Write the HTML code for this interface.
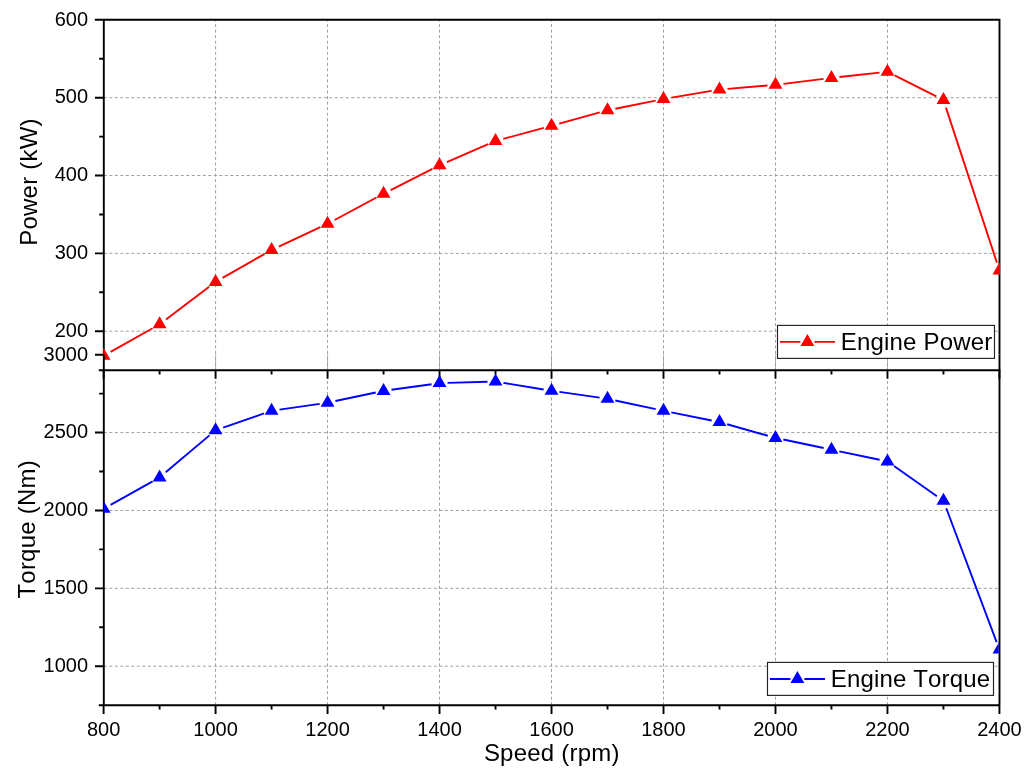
<!DOCTYPE html>
<html><head><meta charset="utf-8"><style>
html,body{margin:0;padding:0;background:#fff;width:1032px;height:774px;overflow:hidden}
svg text{font-family:"Liberation Sans",sans-serif;fill:#000;font-kerning:none;font-feature-settings:"kern" 0}
</style></head><body>
<svg width="1032" height="774" viewBox="0 0 1032 774" style="position:absolute;left:0;top:0;will-change:transform">
<defs><clipPath id="cr"><rect x="103.2" y="0" width="896.9" height="774"/></clipPath><clipPath id="cb"><rect x="103.8" y="0" width="894.9" height="774"/></clipPath></defs>
<path d="M215.58 19.70V370.20 M327.56 19.70V370.20 M439.54 19.70V370.20 M551.52 19.70V370.20 M663.50 19.70V370.20 M775.48 19.70V370.20 M887.46 19.70V370.20" fill="none" stroke="#a0a0a0" stroke-width="1" stroke-dasharray="3.03 2.51" stroke-dashoffset="1.2"/>
<path d="M215.58 705.20V354.70 M327.56 705.20V354.70 M439.54 705.20V354.70 M551.52 705.20V354.70 M663.50 705.20V354.70 M775.48 705.20V354.70 M887.46 705.20V354.70" fill="none" stroke="#a0a0a0" stroke-width="1" stroke-dasharray="3.03 2.51"/>
<path d="M103.80 331.20H999.50 M103.80 253.36H999.50 M103.80 175.53H999.50 M103.80 97.69H999.50 M103.80 666.20H999.50 M103.80 588.33H999.50 M103.80 510.45H999.50 M103.80 432.57H999.50" fill="none" stroke="#a0a0a0" stroke-width="1" stroke-dasharray="3 2.5"/>
<path d="M103.8 18.8V354.7 M999.5 18.8V354.7 M94.8 19.7H1000.4 M98.8 370.2H1000.4 M95 331.20H103.8 M95 253.36H103.8 M95 175.53H103.8 M95 97.69H103.8 M99.2 370.12H103.8 M99.2 292.28H103.8 M99.2 214.44H103.8 M99.2 136.61H103.8 M99.2 58.77H103.8 M103.60 370.2V378.8 M159.59 370.2V374.4 M215.58 370.2V378.8 M271.57 370.2V374.4 M327.56 370.2V378.8 M383.55 370.2V374.4 M439.54 370.2V378.8 M495.53 370.2V374.4 M551.52 370.2V378.8 M607.51 370.2V374.4 M663.50 370.2V378.8 M719.49 370.2V374.4 M775.48 370.2V378.8 M831.47 370.2V374.4 M887.46 370.2V378.8 M943.45 370.2V374.4 M999.44 370.2V378.8" fill="none" stroke="#000" stroke-width="1.9"/>
<g clip-path="url(#cr)"><path d="M110.57 351.88L152.62 328.22 M165.97 319.47L209.20 286.73 M222.53 277.93L264.62 253.87 M278.82 246.52L320.31 227.18 M334.61 220.01L376.50 197.49 M390.68 190.07L432.41 168.83 M446.88 162.03L488.19 144.17 M503.25 138.90L543.80 127.90 M559.23 123.67L599.80 112.43 M615.35 108.72L655.66 100.58 M671.39 97.66L711.60 90.84 M727.46 88.83L767.51 85.47 M783.42 83.82L823.53 78.88 M839.42 77.02L879.51 72.58 M894.60 75.31L936.31 96.39 M945.95 107.60L996.94 262.80" fill="none" stroke="#ff0000" stroke-width="1.9"/>
<path d="M103.60 347.80L96.67 359.80L110.53 359.80ZM159.59 316.30L152.66 328.30L166.52 328.30ZM215.58 273.90L208.65 285.90L222.51 285.90ZM271.57 241.90L264.64 253.90L278.50 253.90ZM327.56 215.80L320.63 227.80L334.49 227.80ZM383.55 185.70L376.62 197.70L390.48 197.70ZM439.54 157.20L432.61 169.20L446.47 169.20ZM495.53 133.00L488.60 145.00L502.46 145.00ZM551.52 117.80L544.59 129.80L558.45 129.80ZM607.51 102.30L600.58 114.30L614.44 114.30ZM663.50 91.00L656.57 103.00L670.43 103.00ZM719.49 81.50L712.56 93.50L726.42 93.50ZM775.48 76.80L768.55 88.80L782.41 88.80ZM831.47 69.90L824.54 81.90L838.40 81.90ZM887.46 63.70L880.53 75.70L894.39 75.70ZM943.45 92.00L936.52 104.00L950.38 104.00ZM999.44 262.40L992.51 274.40L1006.37 274.40Z" fill="#ff0000"/></g>
<path d="M103.8 354.7V706.1 M999.5 354.7V706.1 M98.8 705.2H1000.4 M95 666.20H103.8 M95 588.33H103.8 M95 510.45H103.8 M95 432.57H103.8 M95 354.70H103.8 M99.2 705.14H103.8 M99.2 627.26H103.8 M99.2 549.39H103.8 M99.2 471.51H103.8 M99.2 393.64H103.8 M103.60 705.2V714 M159.59 705.2V709.4 M215.58 705.2V714 M271.57 705.2V709.4 M327.56 705.2V714 M383.55 705.2V709.4 M439.54 705.2V714 M495.53 705.2V709.4 M551.52 705.2V714 M607.51 705.2V709.4 M663.50 705.2V714 M719.49 705.2V709.4 M775.48 705.2V714 M831.47 705.2V709.4 M887.46 705.2V714 M943.45 705.2V709.4 M999.44 705.2V714" fill="none" stroke="#000" stroke-width="1.9"/>
<g clip-path="url(#cb)"><path d="M110.59 504.81L152.60 481.39 M165.70 472.34L209.47 435.36 M223.14 427.58L264.01 413.42 M279.49 409.65L319.64 403.85 M335.39 401.05L375.72 392.55 M391.47 389.80L431.62 384.20 M447.54 382.89L487.53 381.81 M503.42 382.90L543.63 389.50 M559.44 391.93L599.59 397.67 M615.33 400.48L655.68 409.12 M671.34 412.38L711.65 420.52 M727.19 424.27L767.78 435.73 M783.31 439.55L823.64 448.05 M839.30 451.34L879.63 459.76 M894.00 466.00L936.91 496.20 M946.27 508.29L996.62 642.11" fill="none" stroke="#0000ff" stroke-width="1.9"/>
<path d="M103.60 500.70L96.67 512.70L110.53 512.70ZM159.59 469.50L152.66 481.50L166.52 481.50ZM215.58 422.20L208.65 434.20L222.51 434.20ZM271.57 402.80L264.64 414.80L278.50 414.80ZM327.56 394.70L320.63 406.70L334.49 406.70ZM383.55 382.90L376.62 394.90L390.48 394.90ZM439.54 375.10L432.61 387.10L446.47 387.10ZM495.53 373.60L488.60 385.60L502.46 385.60ZM551.52 382.80L544.59 394.80L558.45 394.80ZM607.51 390.80L600.58 402.80L614.44 402.80ZM663.50 402.80L656.57 414.80L670.43 414.80ZM719.49 414.10L712.56 426.10L726.42 426.10ZM775.48 429.90L768.55 441.90L782.41 441.90ZM831.47 441.70L824.54 453.70L838.40 453.70ZM887.46 453.40L880.53 465.40L894.39 465.40ZM943.45 492.80L936.52 504.80L950.38 504.80ZM999.44 641.60L992.51 653.60L1006.37 653.60Z" fill="#0000ff"/></g>
<rect x="777.5" y="325.4" width="217.0" height="33.0" fill="#fff" stroke="#222" stroke-width="1.15"/>
<path d="M779.9 341.9H800.4M814.4 341.9H835.0" stroke="#ff0000" stroke-width="1.9"/>
<path d="M807.4 333.9L800.47 345.9L814.33 345.9Z" fill="#ff0000"/>
<text x="840.86" y="350.0" font-size="24" textLength="151.33" lengthAdjust="spacing">Engine Power</text>
<rect x="767.5" y="662.4" width="226.0" height="33.0" fill="#fff" stroke="#222" stroke-width="1.15"/>
<path d="M769.9 679.0H790.4M804.4 679.0H825.0" stroke="#0000ff" stroke-width="1.9"/>
<path d="M797.4 671.0L790.47 683.0L804.33 683.0Z" fill="#0000ff"/>
<text x="830.83" y="686.8" font-size="24" textLength="159.29" lengthAdjust="spacing">Engine Torque</text>
<text x="88.1" y="337.00" font-size="20" text-anchor="end">200</text>
<text x="88.1" y="259.16" font-size="20" text-anchor="end">300</text>
<text x="88.1" y="181.33" font-size="20" text-anchor="end">400</text>
<text x="88.1" y="103.49" font-size="20" text-anchor="end">500</text>
<text x="88.1" y="25.65" font-size="20" text-anchor="end">600</text>
<text x="88.1" y="672.00" font-size="20" text-anchor="end">1000</text>
<text x="88.1" y="594.12" font-size="20" text-anchor="end">1500</text>
<text x="88.1" y="516.25" font-size="20" text-anchor="end">2000</text>
<text x="88.1" y="438.38" font-size="20" text-anchor="end">2500</text>
<text x="88.1" y="360.50" font-size="20" text-anchor="end">3000</text>
<text x="103.60" y="736" font-size="20" text-anchor="middle">800</text>
<text x="215.58" y="736" font-size="20" text-anchor="middle">1000</text>
<text x="327.56" y="736" font-size="20" text-anchor="middle">1200</text>
<text x="439.54" y="736" font-size="20" text-anchor="middle">1400</text>
<text x="551.52" y="736" font-size="20" text-anchor="middle">1600</text>
<text x="663.50" y="736" font-size="20" text-anchor="middle">1800</text>
<text x="775.48" y="736" font-size="20" text-anchor="middle">2000</text>
<text x="887.46" y="736" font-size="20" text-anchor="middle">2200</text>
<text x="999.44" y="736" font-size="20" text-anchor="middle">2400</text>
<text x="483.89" y="761" font-size="24" textLength="135.52" lengthAdjust="spacing">Speed (rpm)</text>
<text transform="translate(36.8 245.75) rotate(-90)" font-size="24" textLength="127.34" lengthAdjust="spacing">Power (kW)</text>
<text transform="translate(34.8 598.59) rotate(-90)" font-size="24" textLength="138.38" lengthAdjust="spacing">Torque (Nm)</text>
</svg>
</body></html>
